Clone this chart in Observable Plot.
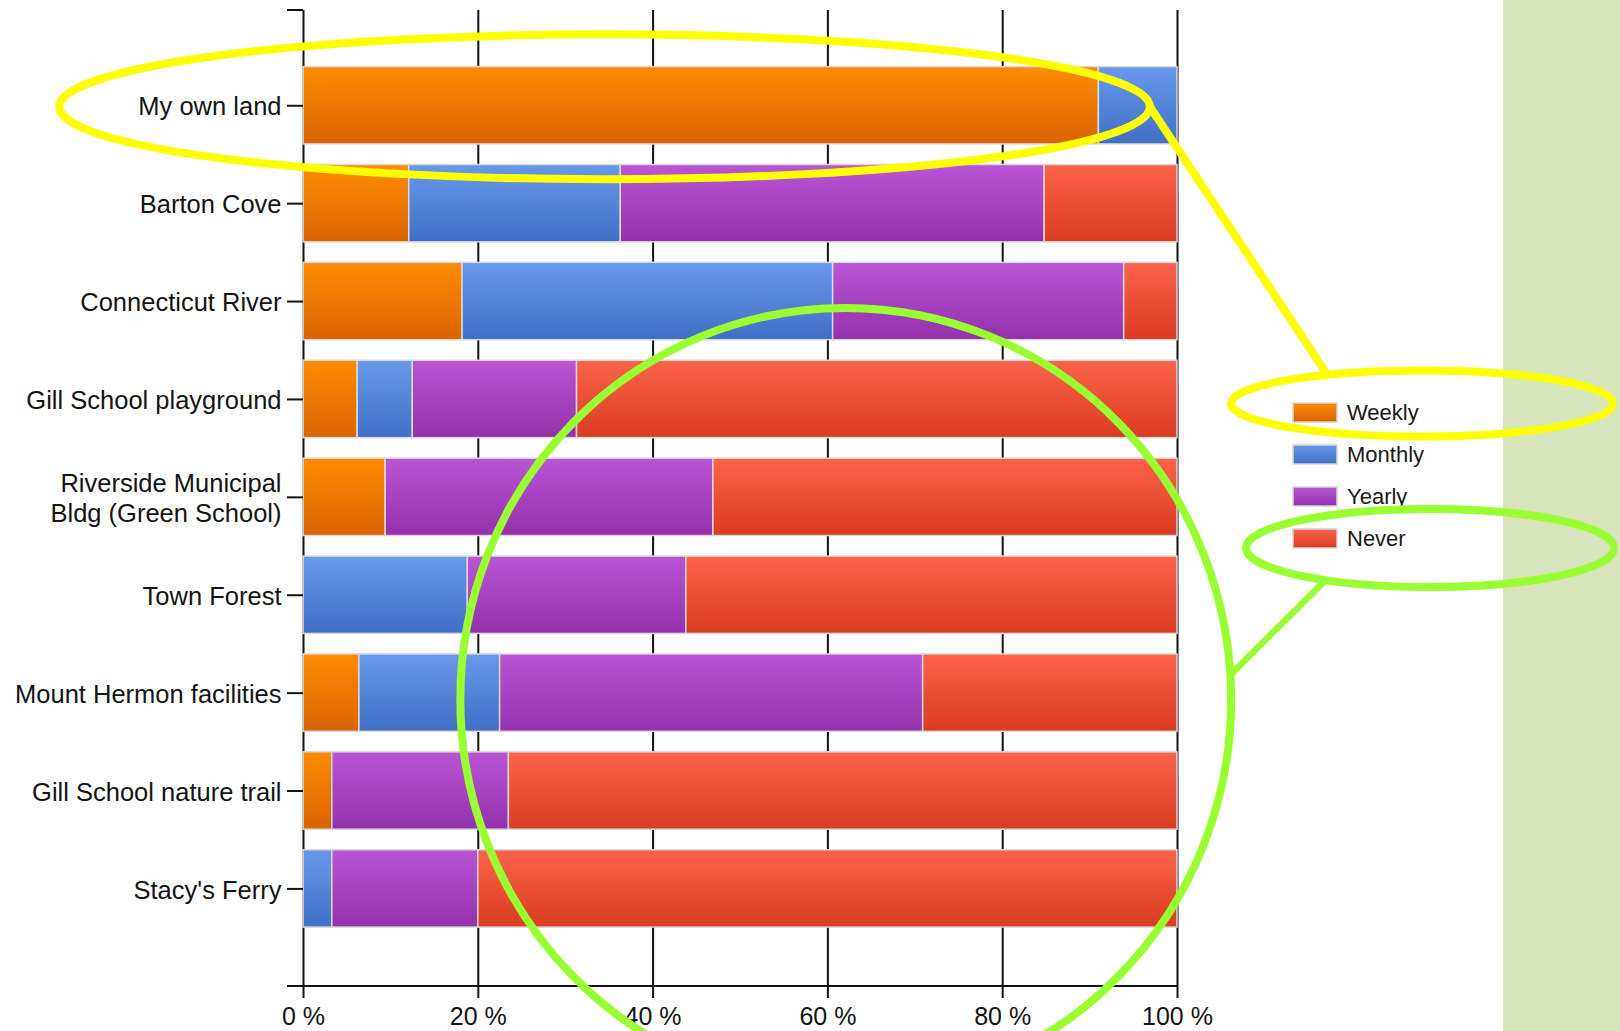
<!DOCTYPE html>
<html>
<head>
<meta charset="utf-8">
<script src="https://cdn.jsdelivr.net/npm/d3@7"></script>
<script src="https://cdn.jsdelivr.net/npm/@observablehq/plot@0.6"></script>
<style>
  html, body { margin: 0; padding: 0; background: #fff; overflow: hidden; }
  #chart { position: relative; width: 1620px; height: 1031px; overflow: hidden; }
</style>
</head>
<body>
<div id="chart"></div>
<script>
// ---- data ----
const categories = [
  "My own land",
  "Barton Cove",
  "Connecticut River",
  "Gill School playground",
  "Riverside Municipal\nBldg (Green School)",
  "Town Forest",
  "Mount Hermon facilities",
  "Gill School nature trail",
  "Stacy's Ferry"
];
const seriesNames = ["Weekly", "Monthly", "Yearly", "Never"];
const weekly  = [91.0, 12.1, 18.2,  6.2,  9.4,  0.0,  6.4,  3.3,  0.0];
const monthly = [ 9.0, 24.2, 42.4,  6.3,  0.0, 18.8, 16.1,  0.0,  3.3];
const yearly  = [ 0.0, 48.5, 33.3, 18.8, 37.5, 25.0, 48.4, 20.2, 16.7];
const never   = [ 0.0, 15.2,  6.1, 68.7, 53.1, 56.2, 29.1, 76.5, 80.0];
const xTicks = [0, 20, 40, 60, 80, 100];

// gradient colours (top, bottom) per series
const gradTop    = ["#FF8C00", "#6798EA", "#BA56D6", "#FB634A"];
const gradBottom = ["#D96300", "#3F70C6", "#9430AB", "#DA3C20"];

const seriesValues = [weekly, monthly, yearly, never];
const rows = [];
categories.forEach((c, i) => {
  seriesNames.forEach((s, j) => {
    const v = seriesValues[j][i];
    if (v > 0) rows.push({place: c, series: s, value: v});
  });
});
const gradId = s => `grad-${s}`;

// ---- custom render helpers ----
function defsMark() {
  const defs = d3.create("svg:defs");
  seriesNames.forEach((s, j) => {
    const g = defs.append("linearGradient").attr("id", gradId(s))
      .attr("x1", 0).attr("y1", 0).attr("x2", 0).attr("y2", 1);
    g.append("stop").attr("offset", "0%").attr("stop-color", gradTop[j]);
    g.append("stop").attr("offset", "100%").attr("stop-color", gradBottom[j]);
  });
  return defs.node();
}

function backgroundMark(index, scales, values, dims) {
  const g = d3.create("svg:g");
  g.append("rect")
    .attr("x", dims.width - 117).attr("y", 0)
    .attr("width", 117).attr("height", dims.height)
    .attr("fill", "#D8E4BC");
  return g.node();
}

function axisExtras(index, scales, values, dims) {
  const g = d3.create("svg:g").attr("stroke", "#111").attr("stroke-width", 2);
  const left = dims.marginLeft, right = dims.width - dims.marginRight;
  const top = dims.marginTop, bottom = dims.height - dims.marginBottom;
  g.append("line").attr("x1", left - 16).attr("x2", right).attr("y1", bottom).attr("y2", bottom);
  g.append("line").attr("x1", left - 16).attr("x2", left).attr("y1", top).attr("y2", top);
  return g.node();
}

function legendGeom(dims) {
  const right = dims.width - dims.marginRight;
  const left = right + 116;
  return {left, rowY: i => 412.5 + i * 42};
}

function legendMark(index, scales, values, dims) {
  const {left, rowY} = legendGeom(dims);
  const g = d3.create("svg:g");
  seriesNames.forEach((s, i) => {
    g.append("rect")
      .attr("x", left).attr("y", rowY(i) - 9.5)
      .attr("width", 44).attr("height", 19)
      .attr("fill", `url(#${gradId(s)})`)
      .attr("stroke", "#d6d6d6").attr("stroke-width", 1.5);
    g.append("text")
      .attr("x", left + 54).attr("y", rowY(i)).attr("dy", "0.35em")
      .attr("text-anchor", "start")
      .attr("font-size", 22).attr("fill", "#1a1a1a")
      .text(s);
  });
  return g.node();
}

function annotationMark(index, scales, values, dims) {
  const {x, y} = scales;
  const step = y.step(), bw = y.bandwidth();
  const mid = c => y(c) + bw / 2;
  const {left, rowY} = legendGeom(dims);
  const yellow = "#FFFF00", green = "#99FF33";
  const ellipses = {
    yChart: {cx: x(34.5), cy: mid(categories[0]) + 1.5, rx: x(62.4) - x(0), ry: 0.74 * step, color: yellow},
    yLegend: {cx: left + 129, cy: rowY(0) - 9, rx: 191, ry: 33, color: yellow},
    gLegend: {cx: left + 137, cy: rowY(3) + 9.5, rx: 184, ry: 39, color: green},
    gChart: {cx: x(62.1), cy: mid(categories[6]) + 0.07 * step, rx: x(44.1) - x(0), ry: 4.0 * step, color: green}
  };
  const pt = (e, deg) => {
    const t = deg * Math.PI / 180;
    return [e.cx + e.rx * Math.cos(t), e.cy + e.ry * Math.sin(t)];
  };
  const g = d3.create("svg:g").attr("fill", "none");
  Object.values(ellipses).forEach(e => {
    g.append("ellipse").attr("cx", e.cx).attr("cy", e.cy).attr("rx", e.rx).attr("ry", e.ry)
      .attr("stroke", e.color).attr("stroke-width", 8);
  });
  const links = [
    [ellipses.yChart, 0, ellipses.yLegend, -119.7, yellow, 8],
    [ellipses.gLegend, 124.6, ellipses.gChart, -3.6, green, 6.5]
  ];
  links.forEach(([a, da, b, db, color, w]) => {
    const p = pt(a, da), q = pt(b, db);
    g.append("line").attr("x1", p[0]).attr("y1", p[1]).attr("x2", q[0]).attr("y2", q[1])
      .attr("stroke", color).attr("stroke-width", w);
  });
  return g.node();
}

// ---- chart ----
const chart = Plot.plot({
  width: 1620,
  height: 1031,
  marginLeft: 303,
  marginRight: 443,
  marginTop: 10,
  marginBottom: 45,
  style: {
    fontFamily: "'Liberation Sans', Arial, sans-serif",
    color: "#141414",
    background: "transparent",
    overflow: "visible"
  },
  x: {domain: [0, 100]},
  y: {domain: categories, paddingInner: 0.21, paddingOuter: 0.59, align: 0.49, round: false},
  color: {domain: seriesNames, range: seriesNames.map(s => `url(#${gradId(s)})`)},
  marks: [
    backgroundMark,
    defsMark,
    Plot.ruleX(xTicks, {stroke: "#111", strokeWidth: 2}),
    Plot.barX(rows, Plot.stackX({
      x: "value", y: "place", fill: "series", order: seriesNames,
      stroke: "#d8d8d8", strokeWidth: 1.5
    })),
    Plot.axisY({tickSize: 16, tickPadding: 6, fontSize: 25.5, strokeWidth: 2, label: null, lineHeight: 1.18}),
    Plot.axisX({ticks: xTicks, tickFormat: d => `${d} %`, tickSize: 12, tickPadding: 9, fontSize: 25, strokeWidth: 2, label: null}),
    axisExtras,
    legendMark,
    annotationMark
  ]
});
document.getElementById("chart").appendChild(chart);
</script>
</body>
</html>
